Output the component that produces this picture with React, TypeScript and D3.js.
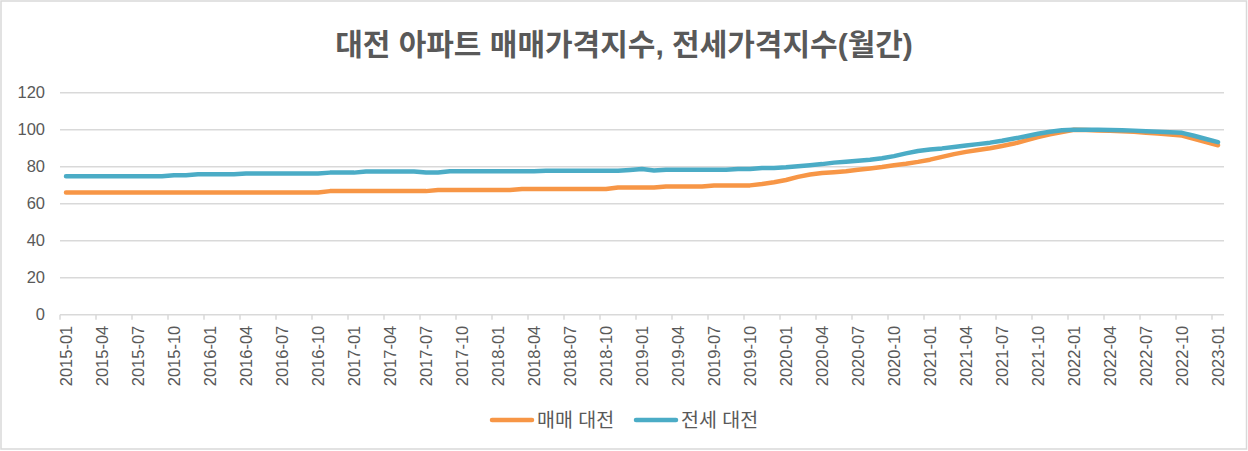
import React from "react";
import * as d3 from "d3";

// month categories, 2015-01 .. 2023-01
const months: string[] = d3
  .timeMonth.range(new Date(2015, 0, 1), new Date(2023, 1, 1))
  .map((d) => d3.timeFormat("%Y-%m")(d));

// 매매 대전 (sale price index)
const saleValues: number[] = [
  66.0, 66.0, 66.0, 66.0, 66.0, 66.0, 66.0, 66.0, 66.0, 66.0, 66.0, 66.0,
  66.0, 66.0, 66.0, 66.0, 66.0, 66.0, 66.0, 66.0, 66.0, 66.0, 66.8, 66.8,
  66.8, 66.8, 66.8, 66.8, 66.8, 66.8, 66.8, 67.4, 67.4, 67.4, 67.4, 67.4,
  67.4, 67.4, 67.9, 67.9, 67.9, 67.9, 67.9, 67.9, 67.9, 67.9, 68.8, 68.8,
  68.8, 68.8, 69.3, 69.3, 69.3, 69.3, 69.9, 69.9, 69.9, 69.9, 70.6, 71.6,
  72.8, 74.5, 75.8, 76.6, 77.0, 77.5, 78.3, 79.0, 79.8, 80.8, 81.6, 82.6,
  83.8, 85.3, 86.8, 88.0, 89.0, 90.0, 91.2, 92.5, 94.2, 96.0, 97.5, 98.8,
  100.0, 99.9, 99.6, 99.4, 99.2, 98.9, 98.4, 97.9, 97.4, 96.8, 95.0, 93.3,
  91.6,
];

// 전세 대전 (jeonse price index)
const jeonseValues: number[] = [
  74.8, 74.8, 74.8, 74.8, 74.8, 74.8, 74.8, 74.8, 74.8, 75.4, 75.4, 75.9,
  75.9, 75.9, 75.9, 76.3, 76.3, 76.3, 76.3, 76.3, 76.3, 76.3, 76.8, 76.8,
  76.8, 77.4, 77.4, 77.4, 77.4, 77.4, 76.9, 76.9, 77.5, 77.5, 77.5, 77.5,
  77.5, 77.5, 77.5, 77.5, 77.8, 77.8, 77.8, 77.8, 77.8, 77.8, 77.8, 78.2,
  78.7, 78.0, 78.4, 78.4, 78.4, 78.4, 78.4, 78.4, 78.7, 78.7, 79.3, 79.3,
  79.7, 80.3, 80.8, 81.4, 82.2, 82.7, 83.2, 83.8, 84.6, 85.7, 87.2, 88.5,
  89.3, 89.9, 90.7, 91.5, 92.2, 93.0, 94.0, 95.2, 96.5, 97.8, 98.9, 99.7,
  100.0, 100.0, 100.0, 99.9, 99.7, 99.5, 99.2, 98.9, 98.6, 98.3, 96.7, 95.0,
  93.3,
];

const yTicks: number[] = [0, 20, 40, 60, 80, 100, 120];

const seriesNames = ["매매 대전", "전세 대전"];
const seriesColors = ["#F79646", "#4BACC6"];

const width = 1248;
const height = 451;
const font = "'Liberation Sans', 'Noto Sans CJK KR', sans-serif";
const textColor = "#595959";
const gridColor = "#d9d9d9";

const App: React.FC = () => {
  const x = d3.scaleBand<string>().domain(months).range([60, 1224]);
  const y = d3.scaleLinear().domain([0, 120]).range([314.7, 92.7]);
  const cx = (m: string) => (x(m) ?? 0) + x.bandwidth() / 2;

  const line = d3
    .line<number>()
    .x((_, i) => cx(months[i]))
    .y((d) => y(d));

  const series = [saleValues, jeonseValues];
  const tickMonths = months.filter((_, i) => i % 3 === 0);

  return (
    <div>
      <style>{"body{margin:0}"}</style>
      <svg width={width} height={height} style={{ display: "block", fontFamily: font }}>
        <rect x={0} y={0} width={width} height={height} fill="#fff" />
        <rect
          x={1}
          y={1}
          width={width - 2.5}
          height={height - 3}
          fill="none"
          stroke={gridColor}
          strokeWidth={1.5}
        />

        <text
          x={624}
          y={55}
          textAnchor="middle"
          fontSize={30}
          fontWeight="bold"
          fill={textColor}
        >
          대전 아파트 매매가격지수, 전세가격지수(월간)
        </text>

        {/* gridlines + y labels */}
        {yTicks.map((t) => (
          <g key={t}>
            <line
              x1={60}
              x2={1224}
              y1={y(t)}
              y2={y(t)}
              stroke={gridColor}
              strokeWidth={1.5}
            />
            <text
              x={45}
              y={y(t)}
              dy="0.35em"
              textAnchor="end"
              fontSize={16.5}
              fill={textColor}
            >
              {t}
            </text>
          </g>
        ))}

        {/* x tick marks and labels */}
        {tickMonths.map((m) => (
          <g key={m}>
            <line
              x1={x(m)}
              x2={x(m)}
              y1={y(0)}
              y2={y(0) + 5}
              stroke={gridColor}
              strokeWidth={1.5}
            />
            <text
              transform={`translate(${cx(m)},${y(0) + 11}) rotate(-90)`}
              dy="0.35em"
              textAnchor="end"
              fontSize={16.5}
              fill={textColor}
            >
              {m}
            </text>
          </g>
        ))}

        {series.map((vals, k) => (
          <path
            key={k}
            d={line(vals) ?? ""}
            fill="none"
            stroke={seriesColors[k]}
            strokeWidth={4.5}
            strokeLinejoin="round"
            strokeLinecap="round"
          />
        ))}

        {/* legend */}
        {seriesNames.map((name, k) => {
          const lx = 492 + k * 144;
          return (
            <g key={name}>
              <line
                x1={lx}
                x2={lx + 40}
                y1={420}
                y2={420}
                stroke={seriesColors[k]}
                strokeWidth={4.5}
                strokeLinecap="round"
              />
              <text x={lx + 45} y={420} dy="0.35em" fontSize={19.5} fill={textColor}>
                {name}
              </text>
            </g>
          );
        })}
      </svg>
    </div>
  );
};

export default App;
